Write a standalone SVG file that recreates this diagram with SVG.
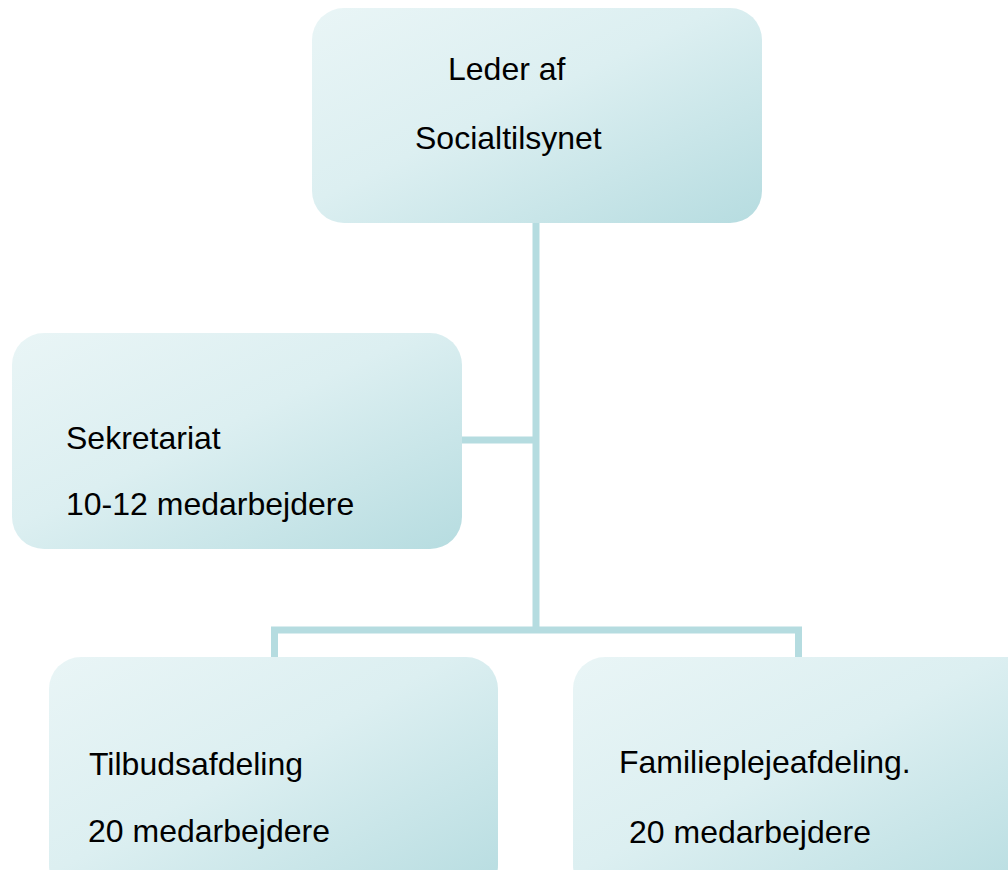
<svg xmlns="http://www.w3.org/2000/svg" width="1008" height="870" viewBox="0 0 1008 870">
<defs>
<linearGradient id="g" x1="0" y1="0" x2="1" y2="1">
<stop offset="0" stop-color="#e9f5f6"/>
<stop offset="0.45" stop-color="#dceff1"/>
<stop offset="1" stop-color="#b6dce0"/>
</linearGradient>
</defs>
<style>
.box{fill:url(#g);stroke:none}
.t{font-family:"Liberation Sans",Arial,sans-serif;font-size:32px;fill:#000}
.c{stroke:#b5dce0;stroke-width:7;fill:none}
</style>
<rect width="1008" height="870" fill="#fff"/>
<g id="connectors">
<path class="c" d="M536 223 V630"/>
<path class="c" d="M462 440 H536"/>
<path class="c" d="M274.5 658 V630 H798.5 V658"/>
</g>
<g id="leder">
<rect class="box" x="312" y="8" width="450" height="215" rx="32"/>
<text class="t" x="448" y="80">Leder af</text>
<text class="t" x="415" y="149">Socialtilsynet</text>
</g>
<g id="sekretariat">
<rect class="box" x="12" y="333" width="450" height="216" rx="32"/>
<text class="t" x="66" y="449">Sekretariat</text>
<text class="t" x="66" y="515">10-12 medarbejdere</text>
</g>
<g id="tilbud">
<rect class="box" x="49" y="657" width="449" height="240" rx="32"/>
<text class="t" x="89" y="775">Tilbudsafdeling</text>
<text class="t" x="88" y="842">20 medarbejdere</text>
</g>
<g id="familie">
<rect class="box" x="573" y="657" width="470" height="240" rx="32"/>
<text class="t" x="619" y="773">Familieplejeafdeling.</text>
<text class="t" x="629" y="843">20 medarbejdere</text>
</g>
</svg>
